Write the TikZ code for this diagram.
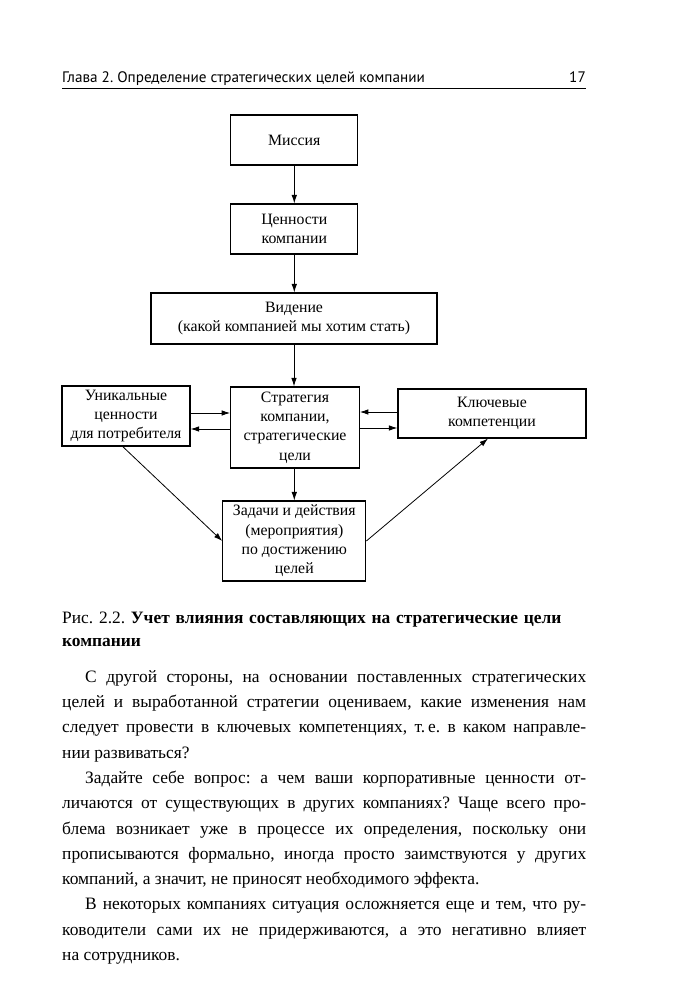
\documentclass[tikz,border=0pt]{standalone}
\usepackage{fontspec}
\setmainfont{Liberation Serif}
\newfontfamily\hdrfont{PT Sans}
\usetikzlibrary{arrows.meta,calc}
\frenchspacing
\begin{document}
\begin{tikzpicture}[x=1pt,y=-1pt,
  blk/.style={draw, line width=1.1pt, rectangle, inner sep=0pt, align=center,
    font=\fontsize{15.8}{19.3}\selectfont},
  arr/.style={-{Latex[length=8.5pt,width=5.5pt]}, line width=0.9pt},
  txt/.style={anchor=north west, inner sep=0pt, text width=524pt},
]
\useasboundingbox (0,0) rectangle (672,1000);
\fill[white] (0,0) rectangle (672,1000);

% header
\node[anchor=base west, inner sep=0pt, font=\hdrfont\fontsize{15.2}{18}\selectfont] (hdr) at (62,83)
  {Глава 2. Определение стратегических целей компании};
\node[anchor=base east, inner sep=0pt, font=\hdrfont\fontsize{15.2}{18}\selectfont] (pg) at (586,83) {17};
\coordinate (rl) at (62,88.5);
\coordinate (rr) at (586,88.5);
\draw[line width=1.2pt] (rl) -- (rr);

% boxes
\node[blk, minimum width=127pt, minimum height=50pt] (miss) at (294.3,140) {Миссия};
\node[blk, minimum width=127pt, minimum height=50pt] (cen) at (294.3,229) {Ценности\\компании};
\node[blk, minimum width=286pt, minimum height=51pt] (vid) at (294,318.5) {Видение\\(какой компанией мы хотим стать)};
\node[blk, minimum width=128pt, minimum height=60pt] (uni) at (126,416) {Уникальные\\ценности\\для потребителя};
\node[blk, minimum width=128.5pt, minimum height=81pt] (str) at (295,427.5) {Стратегия\\компании,\\стратегические\\цели};
\node[blk, minimum width=188pt, minimum height=49pt] (key) at (492,413.5) {Ключевые\\компетенции};
\node[blk, minimum width=143pt, minimum height=80pt] (zad) at (294.3,541) {Задачи и действия\\(мероприятия)\\по достижению\\целей};

% connectors
\draw[arr] (miss.south) -- (cen.north);
\draw[arr] (cen.south) -- (cen.south |- vid.north);
\draw[arr] (vid.south) -- (vid.south |- str.north);
\draw[arr] (str.south -| zad.north) -- (zad.north);
\draw[arr] (uni.east |- 0,413) -- (str.west |- 0,413);
\draw[arr] (str.west |- 0,429) -- (uni.east |- 0,429);
\draw[arr] (key.west |- 0,412) -- (str.east |- 0,412);
\draw[arr] (str.east |- 0,428) -- (key.west |- 0,428);
\draw[arr, line width=0.8pt] ([xshift=-3.3pt]uni.south) -- (zad.west);
\draw[arr, line width=0.8pt] (zad.east) -- ([xshift=-4pt]key.south);

% caption
\node[txt, align=left, font=\fontsize{17.4}{23}\selectfont] (cap) at (62,606.9)
  {\strut Рис. 2.2. \textbf{Учет влияния составляющих на стратегические цели}\\\textbf{компании}};

% body
\node[txt, align=justify, font=\fontsize{17.4}{25.3}\selectfont] (body) at (62,664.3) {%
\tolerance=10000 \hyphenpenalty=10000 \exhyphenpenalty=10000 \parindent=23pt \parskip=0pt
\spaceskip=0.25em plus 0.6em minus 0.1em
\indent\strut С другой стороны, на основании поставленных стратегических\linebreak
целей и выработанной стратегии оцениваем, какие изменения нам\linebreak
следует провести в ключевых компетенциях, т.\,е. в каком направле-\linebreak
нии развиваться?\par
Задайте себе вопрос: а чем ваши корпоративные ценности от-\linebreak
личаются от существующих в других компаниях? Чаще всего про-\linebreak
блема возникает уже в процессе их определения, поскольку они\linebreak
прописываются формально, иногда просто заимствуются у других\linebreak
компаний, а значит, не приносят необходимого эффекта.\par
В некоторых компаниях ситуация осложняется еще и тем, что ру-\linebreak
ководители сами их не придерживаются, а это негативно влияет\linebreak
на сотрудников.\par};
\end{tikzpicture}
\end{document}
